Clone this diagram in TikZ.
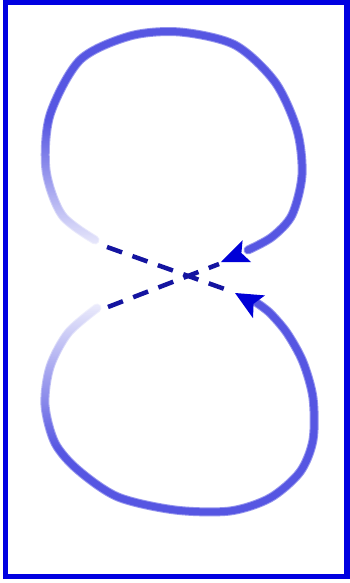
\documentclass[tikz,border=0pt]{standalone}
\usetikzlibrary{fadings}
\definecolor{loopblue}{RGB}{86,86,226}
\definecolor{loopsoft}{RGB}{150,150,238}
\definecolor{dashblue}{RGB}{20,20,160}
\definecolor{headblue}{RGB}{0,0,215}
\definecolor{frameblue}{RGB}{0,0,225}
\tikzfading[name=fadeupper, top color=transparent!100, bottom color=transparent!8]
\tikzfading[name=fadelower, top color=transparent!8, bottom color=transparent!100]
\begin{document}
\begin{tikzpicture}[x=1pt,y=-1pt,
  loopsoftline/.style={draw=loopsoft,line width=9pt,line cap=round},
  loopline/.style={draw=loopblue,line width=7pt,line cap=round},
  dashline/.style={draw=dashblue,line width=4.5pt,dash pattern=on 16pt off 11pt},
  headfill/.style={fill=headblue},
  framebox/.style={draw=frameblue,line width=5.5pt}]
\useasboundingbox (0,0) rectangle (350,583);
\fill[white] (0,0) rectangle (350,583);

% upper loop
\draw[loopsoftline] plot[smooth] coordinates {(95,240) (62,215) (46,170) (50,115) (80,60) (130,36) (180,32) (235,45) (275,82) (297,130) (302,175) (292,215) (272,237) (248,250)};
\draw[loopline] plot[smooth] coordinates {(95,240) (62,215) (46,170) (50,115) (80,60) (130,36) (180,32) (235,45) (275,82) (297,130) (302,175) (292,215) (272,237) (248,250)};
% lower loop
\draw[loopsoftline] plot[smooth] coordinates {(97,308) (68,333) (50,367) (45,405) (55,443) (78,470) (118,497) (175,510) (230,511) (270,498) (300,472) (313,440) (313,398) (303,362) (287,333) (270,313) (257,303)};
\draw[loopline] plot[smooth] coordinates {(97,308) (68,333) (50,367) (45,405) (55,443) (78,470) (118,497) (175,510) (230,511) (270,498) (300,472) (313,440) (313,398) (303,362) (287,333) (270,313) (257,303)};

% brush fading of the left ends
\fill[white,path fading=fadeupper] (25,120) rectangle (112,252);
\fill[white,path fading=fadelower] (25,298) rectangle (112,450);

% dashed crossing
\coordinate (a1) at (107,247);
\coordinate (a2) at (233,292);
\coordinate (b1) at (108,307);
\coordinate (b2) at (219,264);
\draw[dashline] (a1) -- (a2);
\draw[dashline] (b1) -- (b2);

% arrowheads
\path[headfill] (221,262) -- (242.6,240.2) -- (241.4,253) -- (251,262) -- cycle;
\path[headfill] (235,293) -- (265,295.4) -- (253.6,303.8) -- (253,318.2) -- cycle;

% frame
\draw[framebox] (5.5,2.5) rectangle (347,576.5);
\end{tikzpicture}
\end{document}
